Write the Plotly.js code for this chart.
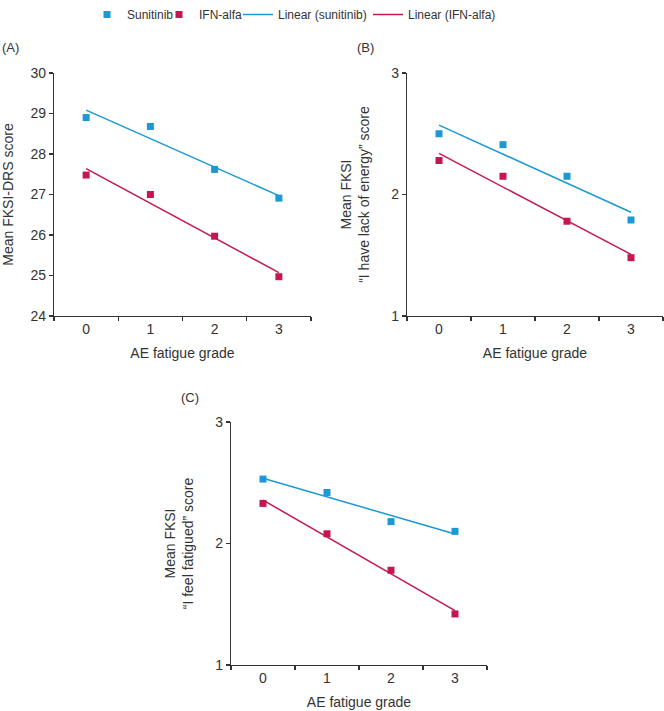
<!DOCTYPE html>
<html><head><meta charset="utf-8">
<script src="https://cdn.plot.ly/plotly-3.0.1.min.js"></script>
<style>html,body{margin:0;padding:0;background:#fff}</style>
</head><body><div id="chart" style="width:664px;height:711px"></div>
<script>
const grades = ["0", "1", "2", "3"];
const sunA = [28.90, 28.68, 27.62, 26.91];
const ifnA = [27.48, 27.00, 25.97, 24.97];
const sunB = [2.50, 2.41, 2.15, 1.79];
const ifnB = [2.28, 2.15, 1.78, 1.48];
const sunC = [2.53, 2.42, 2.18, 2.10];
const ifnC = [2.33, 2.08, 1.78, 1.42];
const seriesNames = ["Sunitinib", "IFN-alfa", "Linear (sunitinib)", "Linear (IFN-alfa)"];
const panelLabels = ["(A)", "(B)", "(C)"];
const xTitle = "AE fatigue grade";
const yTitles = ["Mean FKSI-DRS score", "Mean FKSI<br>“I have lack of energy” score", "Mean FKSI<br>“I feel fatigued” score"];

const BLUE = "#1b98d5", RED = "#c5174f", INK = "#333333";
const FONT = "Liberation Sans, Arial, Helvetica, sans-serif";

// least-squares trend line (as in the original "Linear" trendlines)
function linFit(ys) {
  const xs = ys.map((_, i) => i);
  const n = ys.length;
  const mx = xs.reduce((a, b) => a + b, 0) / n;
  const my = ys.reduce((a, b) => a + b, 0) / n;
  let sxy = 0, sxx = 0;
  for (let i = 0; i < n; i++) { sxy += (xs[i] - mx) * (ys[i] - my); sxx += (xs[i] - mx) ** 2; }
  const b = sxy / sxx, a = my - b * mx;
  return xs.map(x => a + b * x);
}

const panels = [
  {sun: sunA, ifn: ifnA, xa: "x", ya: "y"},
  {sun: sunB, ifn: ifnB, xa: "x2", ya: "y2"},
  {sun: sunC, ifn: ifnC, xa: "x3", ya: "y3"}
];

const traces = [];
panels.forEach((p, i) => {
  const first = i === 0;
  traces.push({x: grades, y: linFit(p.sun), xaxis: p.xa, yaxis: p.ya, mode: "lines", name: seriesNames[2],
    legend: "legend3", showlegend: first, line: {color: BLUE, width: 1.5}});
  traces.push({x: grades, y: linFit(p.ifn), xaxis: p.xa, yaxis: p.ya, mode: "lines", name: seriesNames[3],
    legend: "legend4", showlegend: first, line: {color: RED, width: 1.5}});
  traces.push({x: grades, y: p.sun, xaxis: p.xa, yaxis: p.ya, mode: "markers", name: seriesNames[0],
    legend: "legend", showlegend: first, marker: {symbol: "square", size: 7, color: BLUE}});
  traces.push({x: grades, y: p.ifn, xaxis: p.xa, yaxis: p.ya, mode: "markers", name: seriesNames[1],
    legend: "legend2", showlegend: first, marker: {symbol: "square", size: 7, color: RED}});
});

function xAxis(domain, anchor) {
  return {domain: domain, anchor: anchor, type: "category", range: [-0.5, 3.5], tickson: "boundaries",
    ticks: "outside", ticklen: 4, tickcolor: INK, tickwidth: 1.2, showline: true, linecolor: INK, linewidth: 1.2,
    showgrid: false, zeroline: false, tickfont: {size: 14, color: INK},
    title: {text: xTitle, font: {size: 14, color: INK}, standoff: 12}};
}
function yAxis(domain, anchor, range, title, standoff) {
  return {domain: domain, anchor: anchor, range: range, dtick: 1, ticks: "outside", ticklen: 4, tickcolor: INK,
    tickwidth: 1.2, showline: true, linecolor: INK, linewidth: 1.2, showgrid: false, zeroline: false,
    tickfont: {size: 14, color: INK}, title: {text: title, font: {size: 14, color: INK}, standoff: standoff}};
}

const W = 664, H = 711;
function leg(px) {
  return {orientation: "h", x: px / W, xanchor: "left", y: 1, yanchor: "top", itemwidth: 30,
    font: {size: 12, color: INK}, bgcolor: "rgba(0,0,0,0)"};
}
const layout = {
  width: W, height: H, margin: {l: 0, r: 0, t: 0, b: 0},
  paper_bgcolor: "#fff", plot_bgcolor: "#fff",
  font: {family: FONT, color: INK, size: 14},
  showlegend: true,
  legend: leg(87), legend2: leg(159), legend3: leg(238), legend4: leg(368),
  xaxis: xAxis([54 / W, 311 / W], "y"),
  yaxis: yAxis([1 - 316 / H, 1 - 73 / H], "x", [24, 30], yTitles[0], 22),
  xaxis2: xAxis([407 / W, 663 / W], "y2"),
  yaxis2: yAxis([1 - 316 / H, 1 - 73 / H], "x2", [1, 3], yTitles[1], 18),
  xaxis3: xAxis([231 / W, 487 / W], "y3"),
  yaxis3: yAxis([1 - 665 / H, 1 - 422 / H], "x3", [1, 3], yTitles[2], 18),
  annotations: [
    {text: panelLabels[0], xref: "paper", yref: "paper", x: 0, y: 1 - 47 / H, xanchor: "left", yanchor: "middle", showarrow: false, font: {size: 13, color: INK}},
    {text: panelLabels[1], xref: "paper", yref: "paper", x: 355 / W, y: 1 - 47 / H, xanchor: "left", yanchor: "middle", showarrow: false, font: {size: 13, color: INK}},
    {text: panelLabels[2], xref: "paper", yref: "paper", x: 179 / W, y: 1 - 397 / H, xanchor: "left", yanchor: "middle", showarrow: false, font: {size: 13, color: INK}}
  ]
};

Plotly.newPlot("chart", traces, layout, {displayModeBar: false, staticPlot: true});
</script></body></html>
